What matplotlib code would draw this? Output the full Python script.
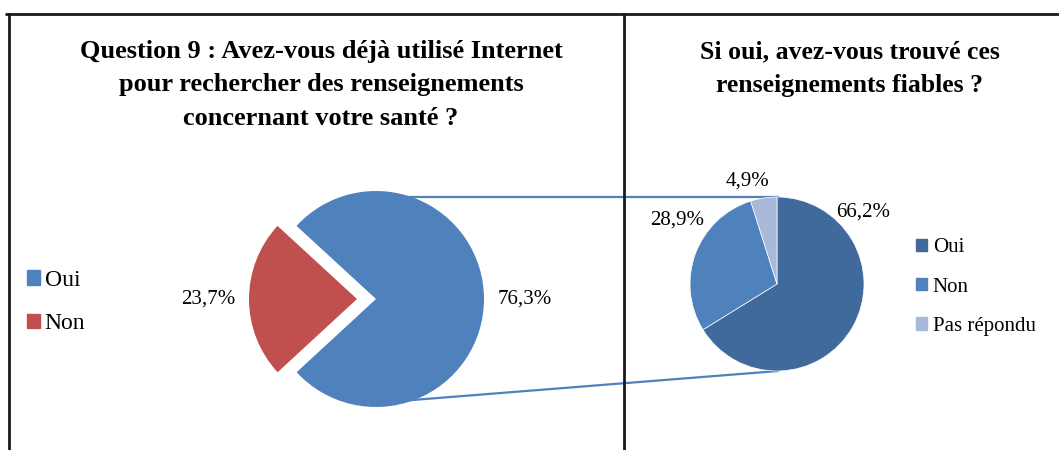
import numpy as np
import matplotlib.pyplot as plt
from matplotlib.patches import Patch

# Donnees
cat1 = ["Oui", "Non"]
val1 = [76.3, 23.7]
lab1 = ["76,3%", "23,7%"]

cat2 = ["Oui", "Non", "Pas répondu"]
val2 = [66.2, 28.9, 4.9]
lab2 = ["66,2%", "28,9%", "4,9%"]

titre1 = "Question 9 : Avez-vous déjà utilisé Internet\npour rechercher des renseignements\nconcernant votre santé ?"
titre2 = "Si oui, avez-vous trouvé ces\nrenseignements fiables ?"

col1 = ["#4F81BD", "#C0504D"]
col2 = ["#416A9C", "#4F81BD", "#A8B9D9"]

W, H = 1059, 450
plt.rcParams['font.family'] = ['Liberation Serif', 'DejaVu Serif']

fig = plt.figure(figsize=(W / 100, H / 100), dpi=100)
ax = fig.add_axes([0, 0, 1, 1])

# Cadre
ax.plot([5, W], [H - 14, H - 14], color="#1a1a1a", lw=2, solid_capstyle='butt')
ax.plot([9, 9], [0, H - 14], color="#1a1a1a", lw=2)
ax.plot([624, 624], [0, H - 14], color="#1a1a1a", lw=2)

# Lignes de liaison (derriere les secteurs)
ax.plot([400, 778], [H - 197, H - 197], color="#4F81BD", lw=1.6, zorder=1)
ax.plot([400, 778], [H - 401, H - 371], color="#4F81BD", lw=1.6, zorder=1)

# Secteur de gauche (explode en unites de donnees)
c1 = (376, H - 299)
r1 = 108
w1, t1 = ax.pie(val1, colors=col1, center=c1, radius=r1, startangle=222.7,
                explode=[0, 19], labels=lab1, labeldistance=1.13,
                wedgeprops=dict(linewidth=0),
                textprops=dict(fontsize=15, color="black"), frame=True)
for w in w1:
    w.set_zorder(2)
# alignement selon le cote du centre
for t in t1:
    t.set_ha('left' if t.get_position()[0] > c1[0] else 'right')

# Secteur de droite
c2 = (777, H - 284)
r2 = 87
w2, t2 = ax.pie(val2, colors=col2, center=c2, radius=r2, startangle=90,
                counterclock=False, wedgeprops=dict(linewidth=0.5, edgecolor="white"),
                frame=True)
for w in w2:
    w.set_zorder(2)
pos2 = [(863, 212), (677, 220), (748, 181)]
for txt, (x, y) in zip(lab2, pos2):
    ax.text(x, H - y, txt, fontsize=15, ha='center', va='center')

ax.set_xlim(0, W)
ax.set_ylim(0, H)
ax.set_aspect('equal')
ax.axis('off')

# Titres
ax.text(321, H - 85, titre1, fontsize=19, fontweight='bold', ha='center', va='center',
        linespacing=1.6)
ax.text(850, H - 69, titre2, fontsize=18.5, fontweight='bold', ha='center', va='center',
        linespacing=1.6)

# Legendes
h1 = [Patch(color=c) for c in col1]
fig.legend(h1, cat1, loc='center left', bbox_to_anchor=(27 / W, 1 - 302 / H),
           frameon=False, fontsize=17, handlelength=0.55, handleheight=0.55,
           handletextpad=0.2, labelspacing=0.95, borderaxespad=0, borderpad=0)
h2 = [Patch(color=c) for c in col2]
fig.legend(h2, cat2, loc='center left', bbox_to_anchor=(916 / W, 1 - 287 / H),
           frameon=False, fontsize=15, handlelength=0.55, handleheight=0.55,
           handletextpad=0.25, labelspacing=0.97, borderaxespad=0, borderpad=0)

fig.savefig("out.png", dpi=100)
